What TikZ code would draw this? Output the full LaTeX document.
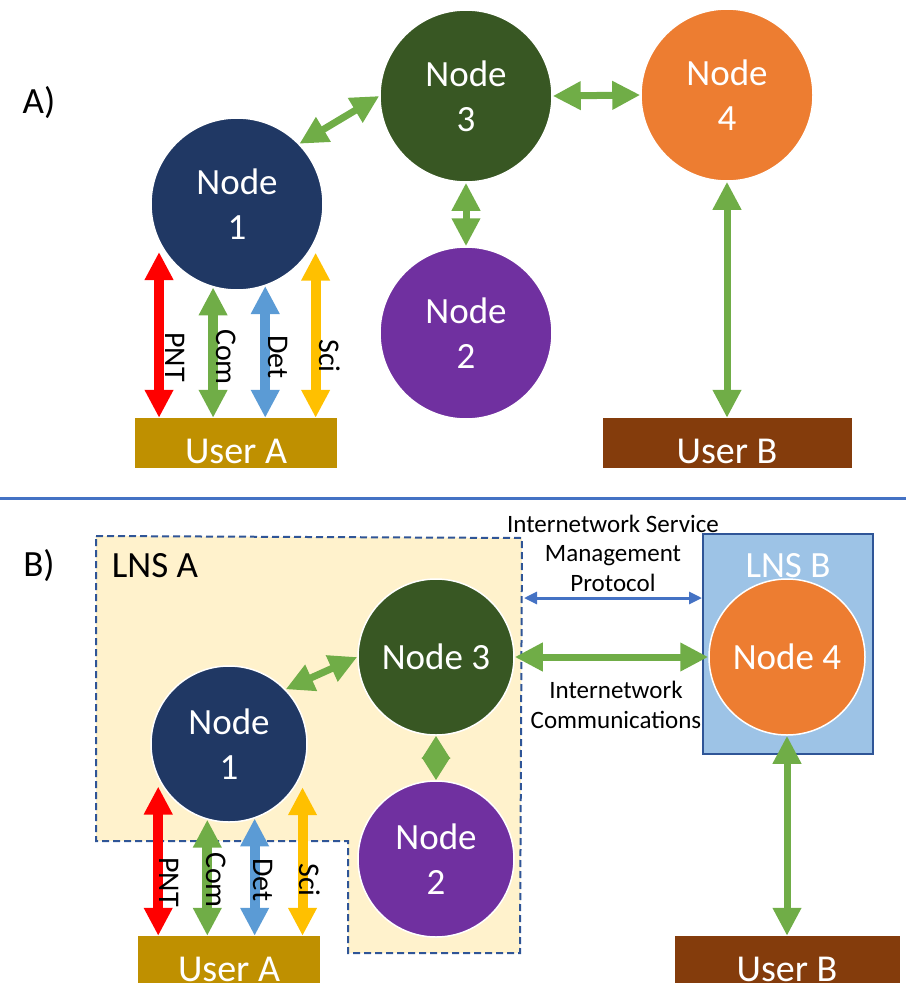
\documentclass[tikz,border=0pt]{standalone}
\usepackage{fontspec}
\setmainfont{Carlito}
\usetikzlibrary{arrows.meta}

\definecolor{nodeone}{HTML}{203864}
\definecolor{nodetwo}{HTML}{7030A0}
\definecolor{nodethree}{HTML}{385723}
\definecolor{nodefour}{HTML}{ED7D31}
\definecolor{linkgreen}{HTML}{70AD47}
\definecolor{pntred}{HTML}{FF0000}
\definecolor{detblue}{HTML}{5B9BD5}
\definecolor{sciyellow}{HTML}{FFC000}
\definecolor{usera}{HTML}{BF9000}
\definecolor{userb}{HTML}{843C0C}
\definecolor{lnsafill}{HTML}{FFF2CC}
\definecolor{lnsbfill}{HTML}{9DC3E6}
\definecolor{edgeblue}{HTML}{2F5597}
\definecolor{sepblue}{HTML}{4472C4}

\begin{document}
\begin{tikzpicture}[x=1pt, y=-1pt,
	netnode/.style={shape=circle, draw=white, line width=1.5pt, text=white, align=center, inner sep=0pt, font=\fontsize{37}{45}\selectfont},
	bignode/.style={netnode, minimum size=172pt},
	smallnode/.style={netnode, minimum size=156pt},
	userbox/.style={shape=rectangle, inner sep=0pt, minimum height=50pt, text height=40pt, text depth=0pt, text=white, font=\fontsize{38}{45}\selectfont},
	link/.style={draw=linkgreen, line width=7pt, arrows={Triangle[width=27pt,length=28pt]-Triangle[width=27pt,length=28pt]}},
	shortlink/.style={draw=linkgreen, line width=7pt, arrows={Triangle[width=27pt,length=23pt]-Triangle[width=27pt,length=23pt]}},
	feed/.style={link, line width=10pt},
	tag/.style={rotate=-90, anchor=base, font=\fontsize{30}{36}\selectfont},
	title/.style={font=\fontsize{37}{45}\selectfont},
	note/.style={align=center, font=\fontsize{25}{29.5}\selectfont},
	protocol/.style={draw=sepblue, line width=3pt, arrows={Triangle[width=12pt,length=13pt]-Triangle[width=12pt,length=13pt]}}]
	\useasboundingbox (0,0) rectangle (906,983);

	% A) without LNS
	\node (atitle)[title] at (39,103) {A)};

	\node (a1)[bignode, fill=nodeone] at (237,204) {Node\\1};
	\node (a3)[bignode, fill=nodethree] at (466,96) {Node\\3};
	\node (a4)[bignode, fill=nodefour] at (727,95) {Node\\4};
	\node (a2)[bignode, fill=nodetwo] at (466,333) {Node\\2};

	\node (aua)[userbox, fill=usera, minimum width=202pt] at (236,443) {User A};
	\node (aub)[userbox, fill=userb, minimum width=249pt] at (727,443) {User B};

	\draw[link] (a1.44) -- (a3.west);
	\draw[link] (a3.east) -- (a4.west);
	\draw[link] (a3) -- (a2);
	\draw[link] (a4) -- (aub);

	\draw[feed, draw=pntred, shorten >=10pt] (aua.north -| a1.206) -- (a1.206);
	\draw[feed] (aua.north -| a1.254) -- (a1.254);
	\draw[feed, draw=detblue] (aua.north -| a1.289) -- (a1.289);
	\draw[feed, draw=sciyellow, shorten >=12pt] (aua.north -| a1.335) -- (a1.335);

	\node (apnt)[tag] at (165,357) {PNT};
	\node (acom)[tag] at (216,357) {Com};
	\node (adet)[tag] at (268,357) {Det};
	\node (asci)[tag] at (319,356) {Sci};

	\draw[sepblue, line width=3pt] (0,498.5) -- (906,498.5);

	% B) with LNS A and LNS B
	\node (btitle)[title] at (39,566) {B)};

	\draw[edgeblue, fill=lnsafill, line width=2pt, dash pattern=on 7pt off 4pt]
		(96,536) -- (522,538) -- (520,953) -- (348,953) -- (348,841) -- (96,841) -- cycle;
	\coordinate (bedge) at (524,598);
	\node (blnsa)[title] at (155,566) {LNS A};

	\node (blnsb)[draw=edgeblue, line width=2pt, fill=lnsbfill, minimum width=170pt, minimum height=220pt] at (788,644) {};
	\node (blnsbt)[title, text=white] at (788,566) {LNS B};

	\node (b1)[smallnode, fill=nodeone] at (229,744) {Node\\1};
	\node (b3)[smallnode, fill=nodethree] at (436,657) {Node 3};
	\node (b2)[smallnode, fill=nodetwo] at (436,859) {Node\\2};
	\node (b4)[smallnode, fill=nodefour] at (787,657) {Node 4};

	\node (bua)[userbox, fill=usera, minimum width=182pt] at (229,961) {User A};
	\node (bub)[userbox, fill=userb, minimum width=225pt] at (787,961) {User B};

	\draw[link] (b1.44) -- (b3.west);
	\draw[shortlink] (b3) -- (b2);
	\draw[link] (b3) -- (b4);
	\draw[link] (b4) -- (bub);
	\draw[protocol] (bedge) -- (bedge -| blnsb.west);

	\node (bsvc)[note] at (613,553) {Internetwork Service\\Management\\Protocol};
	\node (bcom)[note] at (616,705) {Internetwork\\Communications};

	\draw[feed, draw=pntred, shorten >=8pt] (bua.north -| b1.206) -- (b1.206);
	\draw[feed] (bua.north -| b1.254) -- (b1.254);
	\draw[feed, draw=detblue] (bua.north -| b1.289) -- (b1.289);
	\draw[feed, draw=sciyellow, shorten >=15pt] (bua.north -| b1.339) -- (b1.339);

	\node (bpnt)[tag] at (159,882) {PNT};
	\node (bcomm)[tag] at (206,880) {Com};
	\node (bdet)[tag] at (253,880) {Det};
	\node (bsci)[tag] at (299,880) {Sci};
\end{tikzpicture}
\end{document}
